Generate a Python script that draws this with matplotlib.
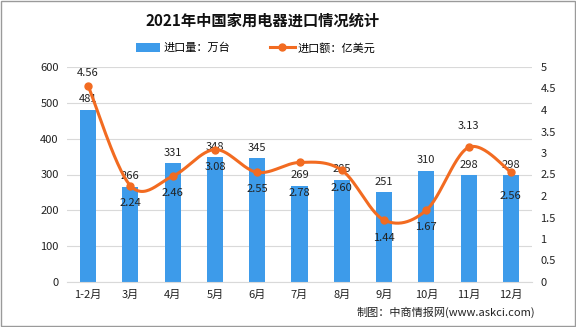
import numpy as np
import matplotlib
matplotlib.use("Agg")
import matplotlib.pyplot as plt
from matplotlib.lines import Line2D
from matplotlib.patches import Patch

plt.rcParams['font.family'] = ['Noto Sans CJK SC', 'DejaVu Sans']

months = ["1-2月", "3月", "4月", "5月", "6月", "7月", "8月", "9月", "10月", "11月", "12月"]
volume = [481, 266, 331, 348, 345, 269, 285, 251, 310, 298, 298]
amount = [4.56, 2.24, 2.46, 3.08, 2.55, 2.78, 2.60, 1.44, 1.67, 3.13, 2.56]
left_ticks = [0, 100, 200, 300, 400, 500, 600]
right_ticks = [0, 0.5, 1, 1.5, 2, 2.5, 3, 3.5, 4, 4.5, 5]
right_labels = ["0", "0.5", "1", "1.5", "2", "2.5", "3", "3.5", "4", "4.5", "5"]

bar_color = "#3D9BEA"
line_color = "#F26B21"
text_color = "#222222"

fig = plt.figure(figsize=(5.76, 3.27), dpi=100)
fig.patch.set_facecolor("white")
ax = fig.add_axes([67/576, 1-282/327, (532-67)/576, (282-67)/327])
ax2 = ax.twinx()

x = np.arange(len(months))
ax.bar(x, volume, width=0.38, color=bar_color, zorder=2)
ax.set_xlim(-0.5, len(months)-0.5)
ax.set_ylim(0, 600)
ax.set_yticks(left_ticks)
ax.yaxis.grid(True, color="#D9D9D9", linewidth=0.8, zorder=0)
ax.set_axisbelow(True)
for s in ["top", "right", "left"]:
    ax.spines[s].set_visible(False)
ax.spines["bottom"].set_color("#D9D9D9")
ax.tick_params(axis="both", length=0, labelsize=8, colors=text_color, pad=6)
ax.set_xticks(x)
ax.set_xticklabels(months)

for xi, v in zip(x, volume):
    ax.annotate(str(v), (xi, v), xytext=(0, 4), textcoords="offset points",
                ha="center", va="bottom", fontsize=8, color=text_color, zorder=5)

# smoothed line (cardinal spline through the data points)
def smooth(xs, ys, n=30):
    xs = np.asarray(xs, float); ys = np.asarray(ys, float)
    P = np.column_stack([xs, ys])
    Pe = np.vstack([P[0], P, P[-1]])
    out = []
    for i in range(len(P)-1):
        p0, p1, p2, p3 = Pe[i], Pe[i+1], Pe[i+2], Pe[i+3]
        c1 = p1 + (p2 - p0) / 6
        c2 = p2 - (p3 - p1) / 6
        t = np.linspace(0, 1, n)[:, None]
        seg = (1-t)**3*p1 + 3*(1-t)**2*t*c1 + 3*(1-t)*t**2*c2 + t**3*p2
        out.append(seg if i == 0 else seg[1:])
    out = np.vstack(out)
    return out[:, 0], out[:, 1]

sx, sy = smooth(x, amount)
ax2.plot(sx, sy, color=line_color, linewidth=2.2, zorder=4, solid_capstyle="round")
ax2.plot(x, amount, "o", color=line_color, markersize=5, zorder=5)
ax2.set_ylim(0, 5)
ax2.set_yticks(right_ticks)
ax2.set_yticklabels(right_labels)
for s in ["top", "right", "left", "bottom"]:
    ax2.spines[s].set_visible(False)
ax2.tick_params(axis="y", length=0, labelsize=8, colors=text_color, pad=6)

offsets = [13, -17, -17, -17, -17, -31, -18, -18, -17, 21, -24]
for xi, v, off in zip(x, amount, offsets):
    ax2.annotate(f"{v:.2f}", (xi, v), xytext=(0, off*0.72), textcoords="offset points",
                 ha="center", va="center", fontsize=8, color=text_color, zorder=6)

fig.text(0.455, 1-21/327, "2021年中国家用电器进口情况统计", ha="center", va="center",
         fontsize=11, fontweight="bold", color="#111111")

handles = [Patch(facecolor=bar_color, edgecolor="none"),
           Line2D([0], [0], color=line_color, linewidth=2.2, marker="o", markersize=5)]
fig.legend(handles, ["进口量：万台", "进口额：亿美元"], loc="center",
           bbox_to_anchor=(0.444, 1-48/327), ncol=2, frameon=False, fontsize=8,
           handlelength=2.2, handleheight=0.8, columnspacing=3.6, handletextpad=0.3)

fig.text(535/576, 1-312/327, "制图：中商情报网(www.askci.com)", ha="right", va="center",
         fontsize=8, color=text_color)

border = plt.Rectangle((0.001, 0.002), 0.997, 0.995, transform=fig.transFigure,
                       fill=False, edgecolor="#9A9A9A", linewidth=1)
fig.add_artist(border)

fig.savefig("out.png", dpi=100)
